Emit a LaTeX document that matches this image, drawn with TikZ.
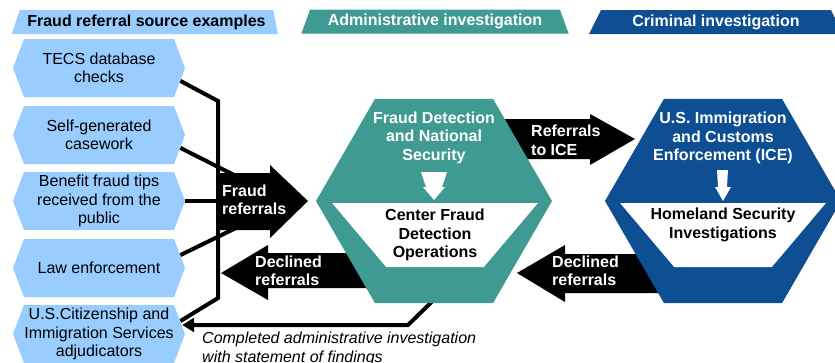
\documentclass[tikz,border=0pt]{standalone}
\usepackage{fontspec}
\setmainfont{Liberation Sans}
\usetikzlibrary{shapes.geometric,shapes.symbols,arrows.meta,calc}
\definecolor{srcblue}{RGB}{153,204,255}
\definecolor{adminteal}{RGB}{63,155,145}
\definecolor{crimblue}{RGB}{13,79,146}
\newcommand{\dgfont}{\fontsize{16}{18.5}\selectfont}
\pgfdeclarelayer{bg}
\pgfsetlayers{bg,main}
\begin{document}
\begin{tikzpicture}[x=1pt,y=-1pt,
  every node/.style={font=\dgfont, inner sep=0pt},
  srcbox/.style={signal, signal to=west and east, signal pointer angle=138.5,
    fill=srcblue, minimum width=172pt, minimum height=58pt, align=center},
  hdr/.style={trapezium, trapezium stretches=true, minimum height=24pt,
    font=\dgfont\bfseries},
  bighex/.style={regular polygon, regular polygon sides=6, minimum size=236pt},
  inbox/.style={trapezium, shape border rotate=180, trapezium stretches=true,
    trapezium left angle=61, trapezium right angle=61, inner sep=2pt,
    minimum width=206pt, minimum height=64pt, fill=white},
  boldtxt/.style={font=\dgfont\bfseries, align=center},
  wlabel/.style={font=\dgfont\bfseries, text=white, align=left, anchor=west},
  conn/.style={line width=4pt, draw=black},
  blk/.style={fill=black}
]
\clip (0,0) rectangle (835,362);

% headers
\node[hdr, fill=srcblue, trapezium left angle=63.4, trapezium right angle=73.7,
  minimum width=267pt] (hdrSrc) at (146.5,22) {Fraud referral source examples};
\node[hdr, fill=adminteal, text=white, trapezium left angle=63.4,
  trapezium right angle=63.4, minimum width=268pt] (hdrAdm) at (435,21.5) {Administrative investigation};
\node[hdr, fill=crimblue, text=white, trapezium left angle=60,
  trapezium right angle=60, minimum width=254pt] (hdrCrim) at (716,22) {Criminal investigation};

% sources
\node[srcbox] (tecs) at (99,68) {TECS database\\checks};
\node[srcbox] (selfgen) at (99,135) {Self-generated\\casework};
\node[srcbox] (tips) at (99,201) {Benefit fraud tips\\received from the\\public};
\node[srcbox] (lawenf) at (99,268) {Law enforcement};
\node[srcbox] (uscis) at (99,334) {U.S.Citizenship and\\Immigration Services\\adjudicators};

% investigation hexagons
\node[bighex, fill=adminteal] (fdns) at (434,201) {};
\node[bighex, fill=crimblue] (ice) at (723,201) {};
\node[boldtxt, text=white] (fdnsT) at (434,137.5) {Fraud Detection\\and National\\Security};
\node[boldtxt, text=white] (iceT) at (723,138) {U.S. Immigration\\and Customs\\Enforcement (ICE)};
\node[inbox] (cfdoBox) at (435,235) {};
\node[boldtxt] (cfdo) at (435,235) {Center Fraud\\Detection\\Operations};
\node[inbox] (hsiBox) at (723,235) {};
\node[boldtxt] (hsi) at (723,225) {Homeland Security\\Investigations};

% small white arrows inside hexagons
\fill[white] (421,172) -- (447,172) -- (442,187) -- (445,187) -- (434,200)
  -- (423,187) -- (426,187) -- cycle;
\fill[white] (717,170) -- (728,170) -- (727,187) -- (731,187) -- (723,201)
  -- (715,187) -- (718,187) -- cycle;

% block arrow labels
\node[wlabel] (fraudRef) at (222,200) {Fraud\\referrals};
\node[wlabel] (declL) at (255,271) {Declined\\referrals};
\node[wlabel] (refIce) at (531,140.5) {Referrals\\to ICE};
\node[wlabel] (declR) at (552,271) {Declined\\referrals};

% findings text
\node[font=\dgfont\itshape, align=left, anchor=north west] (findings) at (202,332)
  {Completed administrative investigation\\with statement of findings};

\coordinate (busTop) at (218,101);
\coordinate (busBot) at (218,298);
\coordinate (frIn1) at (236,176);
\coordinate (frIn2) at (238,227);
\coordinate (retBend) at (408,325);

\begin{pgfonlayer}{bg}
  % source connectors
  \draw[conn] (tecs.-9) -- (busTop) -- (busBot) -- (uscis.9);
  \draw[conn] (selfgen.-9) -- (frIn1);
  \draw[conn] (tips.east) -- (tips.east -| busTop);
  \draw[conn] (lawenf.9) -- (frIn2);
  % block arrows
  \fill[blk] (216,173) -- (270,173) -- (270,165) -- (308,201) -- (270,238)
    -- (270,230) -- (216,230) -- cycle;
  \fill[blk] (221,273) -- (268,245) -- (268,253) -- (375,253) -- (375,288)
    -- (268,288) -- (268,300) -- cycle;
  \fill[blk] (495,119) -- (590,119) -- (590,114) -- (635,139) -- (590,165)
    -- (590,159) -- (495,159) -- cycle;
  \fill[blk] (517,273) -- (565,245) -- (565,254) -- (665,254) -- (665,293)
    -- (565,293) -- (565,302) -- cycle;
  % return connector
  \draw[conn, shorten >=-3pt, -{Triangle[length=12pt,width=14pt]}]
    ([xshift=2.3pt,yshift=6pt]fdns.south) -- (retBend) -- (retBend -| uscis.east);
\end{pgfonlayer}
\end{tikzpicture}
\end{document}
